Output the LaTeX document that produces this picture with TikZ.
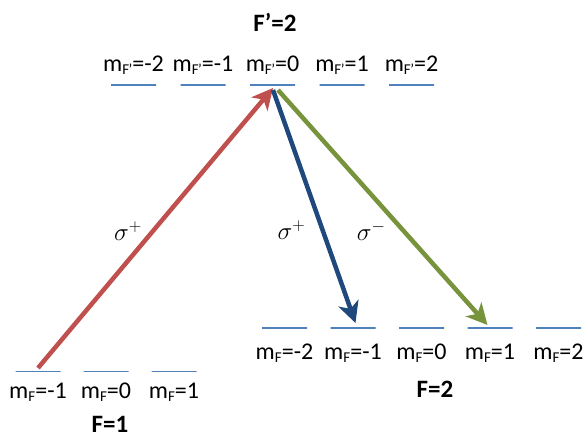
\documentclass[tikz,border=0pt]{standalone}
\usepackage{fontspec}
\setmainfont{Carlito}
\usepackage{tikz}
\usetikzlibrary{arrows.meta, positioning, calc}
\definecolor{levelblue}{HTML}{4F81BD}
\definecolor{sigmared}{HTML}{C0504D}
\definecolor{sigmablue}{HTML}{1F497D}
\definecolor{sigmagreen}{HTML}{77933C}
\newcommand{\msub}[1]{\raisebox{-3pt}{\fontsize{15}{15}\selectfont #1}}
\tikzstyle{level} = [
  rectangle, draw=levelblue, line width=1.6pt,
  minimum width=45pt, minimum height=0pt,
  inner sep=0pt, outer sep=0pt
]
\tikzstyle{mlabel} = [
  inner sep=0pt, font=\fontsize{24}{28}\selectfont
]
\tikzstyle{flabel} = [
  inner sep=0pt, font=\fontsize{25}{30}\selectfont\bfseries
]
\tikzstyle{transition} = [
  -{Stealth[length=21pt, width=21pt, inset=6pt]}, line width=4.5pt
]
\tikzstyle{sigmalabel} = [
  inner sep=0pt, anchor=east, text=black, font=\fontsize{25}{30}\selectfont
]

\begin{document}
\begin{tikzpicture}[x=1pt, y=-1pt]
  \useasboundingbox (0,0) rectangle (588,438);

  % ── Excited state F'=2 ────────────────────────────────
  \node[level] (e0) at (272.5,85) {};
  \node[level, left=24.5pt of e0]  (em1) {};
  \node[level, left=24.5pt of em1] (em2) {};
  \node[level, right=24.5pt of e0] (ep1) {};
  \node[level, right=24.5pt of ep1] (ep2) {};
  \node[mlabel, above=13pt of em2, anchor=base] (lem2) {m\msub{F\kern-0.5pt’}=-2};
  \node[mlabel, above=13pt of em1, anchor=base] (lem1) {m\msub{F\kern-0.5pt’}=-1};
  \node[mlabel, above=13pt of e0,  anchor=base] (le0)  {m\msub{F\kern-0.5pt’}=0};
  \node[mlabel, above=13pt of ep1, anchor=base] (lep1) {m\msub{F\kern-0.5pt’}=1};
  \node[mlabel, above=13pt of ep2, anchor=base] (lep2) {m\msub{F\kern-0.5pt’}=2};
  \node[flabel, anchor=base] (fe) at (275,32) {F’=2};

  % ── Ground state F=1 ──────────────────────────────────
  \node[level] (g0) at (106,371.5) {};
  \node[level, left=23pt of g0]  (gm1) {};
  \node[level, right=23pt of g0] (gp1) {};
  \node[mlabel, below=27pt of gm1, anchor=base] (lgm1) {m\msub{F}=-1};
  \node[mlabel, below=27pt of g0,  anchor=base] (lg0)  {m\msub{F}=0};
  \node[mlabel, below=27pt of gp1, anchor=base] (lgp1) {m\msub{F}=1};
  \node[flabel, anchor=base] (fg) at (110,432) {F=1};

  % ── Ground state F=2 ──────────────────────────────────
  \node[level] (h0) at (421.5,328) {};
  \node[level, left=23.5pt of h0]  (hm1) {};
  \node[level, left=23.5pt of hm1] (hm2) {};
  \node[level, right=23.5pt of h0] (hp1) {};
  \node[level, right=23.5pt of hp1] (hp2) {};
  \node[mlabel, below=31pt of hm2, anchor=base] (lhm2) {m\msub{F}=-2};
  \node[mlabel, below=31pt of hm1, anchor=base] (lhm1) {m\msub{F}=-1};
  \node[mlabel, below=31pt of h0,  anchor=base] (lh0)  {m\msub{F}=0};
  \node[mlabel, below=31pt of hp1, anchor=base] (lhp1) {m\msub{F}=1};
  \node[mlabel, below=31pt of hp2, anchor=base] (lhp2) {m\msub{F}=2};
  \node[flabel, anchor=base] (fh) at (435,397) {F=2};

  % ── Transitions ───────────────────────────────────────
  \draw[transition, sigmared] ($(gm1)+(0,-3.5)$) --
    node[sigmalabel, pos=0.49, left=9pt] {$\sigma^{+}$} ($(e0)+(0.5,3)$);
  \draw[transition, sigmablue] ($(e0)+(0.5,5)$) --
    node[sigmalabel, pos=0.6, left=15pt] {$\sigma^{+}$} ($(hm1)+(2.5,-5)$);
  \draw[transition, sigmagreen] ($(e0)+(5.5,5)$) --
    node[sigmalabel, pos=0.6, left=16pt] {$\sigma^{-}$} ($(hp1)+(-2.5,-3)$);

\end{tikzpicture}
\end{document}
